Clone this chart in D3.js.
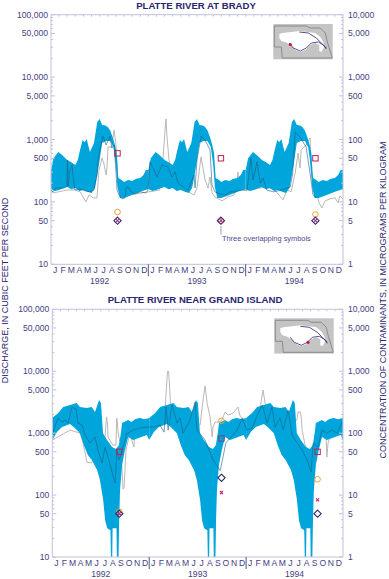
<!DOCTYPE html>
<html>
<head>
<meta charset="utf-8">
<script src="https://cdn.jsdelivr.net/npm/d3@7"></script>
<style>
  html, body { margin: 0; padding: 0; background: #fff; }
  text { font-family: "Liberation Sans", Arial, sans-serif; }
</style>
</head>
<body>
<div id="chart"></div>
<script>
const monthLetters = ['J', 'F', 'M', 'A', 'M', 'J', 'J', 'A', 'S', 'O', 'N', 'D'];
const years = [1992, 1993, 1994];
const leftTicks = [100000, 50000, 10000, 5000, 1000, 500, 100, 50, 10];
const rightTicks = [10000, 5000, 1000, 500, 100, 50, 10, 5, 1];

// [month of year, cubic feet per second], the envelope repeats every year
const bradyUpper = [[0, 325], [0.3, 500], [0.9, 630], [1.4, 560], [2, 470], [2.5, 430], [3, 389], [3.3, 470], [3.6, 700], [3.9, 982], [4.15, 900], [4.4, 1019], [4.8, 631], [5.3, 879], [5.7, 1910], [6, 2130], [6.3, 1706], [6.7, 1680], [7, 1585], [7.3, 1400], [7.6, 1096], [7.9, 800], [8.1, 608], [8.3, 242], [8.7, 225], [9, 209], [9.5, 225], [10, 216], [10.5, 235], [11, 242], [11.4, 270], [11.7, 325], [12, 325]];
const bradyLower = [[0, 161], [0.5, 150], [1, 155], [1.5, 165], [2, 174], [2.5, 160], [3, 167], [3.5, 150], [4, 155], [4.5, 145], [5, 139], [5.4, 167], [5.7, 270], [6, 470], [6.3, 879], [6.8, 946], [7.3, 946], [7.7, 759], [8, 389], [8.2, 174], [8.5, 116], [9, 116], [10, 129], [11, 145], [12, 161]];
const islandUpper = [[0, 1750], [0.74, 2110], [1.36, 2640], [2.2, 2840], [3, 3060], [3.43, 2640], [4.26, 2540], [4.88, 2640], [5.29, 2190], [5.79, 3430], [6.03, 3060], [6.28, 1000], [6.78, 773], [7.4, 596], [7.89, 554], [8.26, 642], [8.51, 1040], [8.64, 1456], [9.38, 1630], [9.8, 1520], [10.3, 1700], [10.87, 1750], [11.4, 1680], [12, 1750]];
const islandLower = [[0, 773], [0.58, 1040], [1.2, 1255], [2.2, 1400], [2.8, 1210], [3.43, 1000], [3.9, 642], [4.4, 443], [4.9, 368], [5.55, 253], [5.9, 175], [6.3, 83], [6.55, 39], [6.8, 29], [7.2, 27], [7.27, 9], [7.42, 9], [7.47, 29], [7.95, 29], [8, 9], [8.2, 9], [8.28, 39], [8.39, 120], [8.64, 305], [9, 534], [9.4, 865], [10, 773], [11.7, 930], [12, 773]];

// [month since Jan 1992, cubic feet per second]
const bradyDark = [[0, 155], [0.25, 145], [0.6, 167], [1.1, 167], [1.6, 167], [1.97, 180], [2.03, 470], [2.1, 180], [2.34, 325], [2.6, 391], [2.7, 270], [2.96, 155], [3.6, 161], [4.2, 150], [4.8, 145], [5.3, 155], [5.67, 270], [5.8, 470], [6.04, 679], [6.4, 1130], [6.8, 816], [7.27, 1130], [7.5, 731], [7.77, 816], [8, 325], [8.14, 155], [8.5, 120], [8.75, 112], [9.12, 116], [9.25, 167], [9.5, 174], [9.86, 145], [10.36, 134], [10.97, 145], [11.7, 139], [11.96, 155], [12.2, 437], [12.7, 325], [13.07, 251], [13.69, 391], [14.43, 363], [14.92, 251], [15.29, 302], [15.66, 201], [16.28, 174], [16.9, 155], [17.63, 270], [17.76, 167], [18, 470], [18.5, 1130], [19, 982], [19.6, 679], [19.85, 187], [20.2, 145], [20.84, 134], [21.45, 129], [22.07, 145], [22.7, 145], [23.3, 155], [23.9, 155], [24.17, 155], [24.66, 506], [24.9, 225], [25.4, 437], [25.8, 201], [26.14, 242], [26.6, 155], [27.4, 145], [28.5, 155], [29.5, 174], [29.8, 291], [30.1, 1319], [30.7, 1096], [31.45, 759], [32.06, 225], [32.3, 129], [32.7, 116]];
const bradyGrey = [[0, 155], [0.25, 139], [1.97, 155], [2.96, 155], [3.6, 145], [4.3, 100], [4.7, 129], [5.2, 116], [5.67, 116], [5.8, 201], [5.92, 325], [6.3, 506], [6.5, 421], [6.8, 270], [6.9, 350], [7.03, 759], [7.5, 759], [7.77, 1420], [8, 879], [8.26, 209], [8.5, 129], [9.1, 129], [10.4, 134], [12, 145], [12.8, 150], [13.4, 155], [13.8, 470], [14.06, 1420], [14.18, 2130], [14.3, 1096], [14.55, 470], [15.3, 187], [16.5, 155], [17.63, 129], [18, 167], [18.5, 525], [19, 225], [19.36, 167], [19.6, 251], [19.85, 139], [20.2, 120], [21.1, 104], [21.8, 120], [22.56, 129], [22.9, 167], [23.06, 302], [23.1, 201], [23.55, 155], [24.5, 155], [26.6, 174], [27.6, 155], [28.6, 108], [29.1, 155], [29.6, 145], [30.1, 291], [30.46, 608], [30.7, 350], [30.83, 679], [31.45, 816], [31.94, 1057], [32.06, 325], [32.43, 174], [32.7, 139], [33.05, 97], [33.4, 80], [33.8, 104], [34.4, 112], [35, 116], [35.4, 97], [35.6, 125], [36, 112]];
const islandDark = [[0.09, 1040], [0.7, 1750], [1.2, 1510], [1.57, 1630], [1.95, 1456], [2.44, 2640], [2.94, 2450], [3.18, 1456], [3.68, 1350], [4.05, 932], [4.67, 692], [5.29, 865], [5.66, 534], [6.16, 329], [6.53, 596], [6.9, 411], [7.77, 156], [8.02, 534], [8.27, 368], [8.76, 596], [9.25, 1000], [9.38, 1000], [10, 1122], [10.87, 1210], [11.73, 1255], [12.48, 1255], [13.35, 1350], [13.84, 1040], [14.09, 2640], [14.34, 1122], [14.83, 2840], [15.45, 1456], [15.82, 1750], [16.2, 1000], [17.06, 1630], [17.68, 3180], [17.93, 1122], [18.92, 773], [19.9, 368], [20.8, 250], [21.5, 700], [22.9, 1122], [23.5, 1750], [24.1, 1122], [24.75, 1210], [25.5, 2110], [26, 2840], [26.6, 1456], [27.2, 2640], [27.6, 1255], [28.2, 1750], [28.6, 1122], [29.2, 2360], [29.7, 932], [30.07, 773], [30.94, 534], [31.56, 368], [32.06, 235], [32.3, 692], [32.9, 596], [33.4, 1122], [34, 1000], [34.6, 1122], [35.3, 1000], [35.9, 1510]];
const islandGrey = [[0, 773], [2.2, 1122], [3.43, 1000], [3.8, 692], [4.3, 340], [4.9, 329], [5.17, 534], [5.66, 773], [6.28, 773], [6.53, 865], [6.72, 1820], [6.85, 1350], [6.9, 865], [7.5, 642], [7.89, 642], [7.96, 1630], [8, 1750], [8.15, 1040], [8.5, 575], [8.76, 125], [8.88, 130], [9.13, 534], [9.6, 1000], [10.1, 596], [10.25, 1000], [12.1, 1122], [13.35, 1350], [13.96, 2360], [14.15, 5767], [14.27, 10000], [14.4, 10000], [14.52, 5767], [14.7, 1960], [15.8, 1350], [17.68, 1350], [18.3, 1350], [18.67, 3430], [18.92, 5767], [19.17, 3060], [19.54, 1820], [19.8, 865], [19.9, 1255], [20.16, 1510], [20.66, 1510], [21, 1630], [21.4, 2190], [21.77, 1960], [22.4, 2110], [23, 2640], [23.25, 1890], [24.5, 1350], [25.7, 2360], [26.1, 4970], [26.35, 3060], [26.97, 1630], [29.45, 1350], [30.3, 1630], [30.44, 2190], [30.7, 2190], [30.8, 1960], [30.94, 1122], [31.3, 642], [32.2, 368], [32.7, 642], [33.4, 1122], [33.9, 1040], [34, 411], [34.15, 692], [34.6, 1040], [36, 1350]];

// sample month and micrograms per kilogram per year, same order in each array
const bradySampleMonths = [8.2, 20.95, 32.6];
const bradySquares = [60, 50, 50];
const bradyCircles = [6.9, 5, 6.3];
const bradyDiamonds = [5, 5, 5];
const bradyCrosses = [5, 5, 5];
const islandSampleMonths = [8.3, 20.95, 32.85];
const islandSquares = [50, 82, 50];
const islandCircles = [5.4, 158, 18];
const islandDiamonds = [5, 19, 5];
const islandCrosses = [5, 11, 8.4];

// locator map, pixels inside the inset
const mapBasin = [[6, 10], [9, 9], [18, 8], [26, 7], [35, 8], [42, 9], [47, 13], [50, 18], [51, 23], [48, 28], [46, 27], [46, 21], [42, 19], [37, 21], [32, 26], [27, 28], [22, 26], [17, 21], [12, 18], [8, 17], [6, 14]];
const mapState = [[1, 2], [33, 2], [37, 4], [47, 4], [52, 9], [54, 18], [59, 34], [9, 34], [8, 23], [1, 23]];
const mapSouthFork = [[16, 19], [20, 24], [27, 27], [33, 24], [38, 19], [45, 18], [50, 21], [53, 25]];
const mapNorthFork = [[26, 8], [35, 9], [43, 14], [48, 19], [53, 24]];

const navy = '#2a2570';
const tickColor = '#45417f';
const axisColor = '#c2c0db';
const bandColor = '#00a5db';
const red = '#c41f50';

function drawPanel(svg, cfg) {
    const x = d3.scaleLinear().domain([0, 36]).range([cfg.left, cfg.right]);
    const y = d3.scaleLog().domain([10, 100000]).range([cfg.bottom, cfg.top]);
    const yRight = d3.scaleLog().domain([1, 10000]).range([cfg.bottom, cfg.top]);

    const panel = svg.append('g');
    const clipId = `clip-${cfg.id}`;
    panel.append('clipPath').attr('id', clipId).append('rect')
        .attr('x', cfg.left).attr('y', cfg.top)
        .attr('width', cfg.right - cfg.left).attr('height', cfg.bottom - cfg.top);
    const plot = panel.append('g').attr('clip-path', `url(#${clipId})`);

    const line = d3.line().x(d => x(d[0])).y(d => y(d[1]));
    const yearOf = (pts, k) => pts.map(d => [d[0] + k * 12, d[1]]);

    // grey record sits behind the envelope, dark one on top of it
    plot.append('path').attr('d', line(cfg.grey))
        .attr('fill', 'none').attr('stroke', '#b0b0b0').attr('stroke-width', 0.9);

    years.forEach((yr, k) => {
        const upper = yearOf(cfg.upper, k);
        const lower = yearOf(cfg.lower, k).reverse();
        plot.append('path')
            .attr('d', line(upper.concat(lower)) + 'Z')
            .attr('fill', bandColor);
    });

    plot.append('path').attr('d', line(cfg.dark))
        .attr('fill', 'none').attr('stroke', '#1d6288').attr('stroke-width', 0.6);

    // axes box
    const minorTicks = d3.range(1, 5).flatMap(e => d3.range(1, 10).map(m => m * 10 ** e));
    const frame = panel.append('g').attr('stroke', axisColor).attr('fill', 'none');
    frame.append('path').attr('d', `M${cfg.left},${cfg.bottom}V${cfg.top}H${cfg.right}V${cfg.bottom}H${cfg.left}`);
    minorTicks.concat([100000]).forEach(v => {
        const len = leftTicks.includes(v) ? 4 : 2;
        frame.append('line').attr('x1', cfg.left).attr('x2', cfg.left + len).attr('y1', y(v)).attr('y2', y(v));
        frame.append('line').attr('x1', cfg.right).attr('x2', cfg.right - len).attr('y1', y(v)).attr('y2', y(v));
    });
    d3.range(1, 36).forEach(m => {
        frame.append('line').attr('x1', x(m)).attr('x2', x(m)).attr('y1', cfg.top).attr('y2', cfg.top + 2);
    });

    panel.selectAll('.left-label').data(leftTicks).join('text')
        .attr('class', 'left-label')
        .attr('x', cfg.left - 3).attr('y', d => y(d) + 3)
        .attr('text-anchor', 'end').attr('font-size', 8.6).attr('fill', tickColor)
        .text(d => d3.format(',')(d));
    panel.selectAll('.right-label').data(rightTicks).join('text')
        .attr('class', 'right-label')
        .attr('x', cfg.right + 5).attr('y', d => yRight(d) + 3)
        .attr('font-size', 8.6).attr('fill', tickColor)
        .text(d => d3.format(',')(d));

    // months and years
    d3.range(36).forEach(m => {
        panel.append('text').attr('x', x(m + 0.5)).attr('y', cfg.bottom + 9)
            .attr('text-anchor', 'middle').attr('font-size', 8.6).attr('fill', tickColor)
            .text(monthLetters[m % 12]);
    });
    years.forEach((yr, k) => {
        panel.append('text').attr('x', x(k * 12 + 6)).attr('y', cfg.bottom + 20)
            .attr('text-anchor', 'middle').attr('font-size', 8.6).attr('fill', tickColor)
            .text(yr);
        if (k > 0) {
            panel.append('line').attr('x1', x(k * 12)).attr('x2', x(k * 12))
                .attr('y1', cfg.bottom).attr('y2', cfg.bottom + 12)
                .attr('stroke', navy).attr('stroke-width', 0.8);
        }
    });

    panel.append('text').attr('x', cfg.titleX).attr('y', cfg.top - 6)
        .attr('text-anchor', 'middle').attr('font-size', 9.6).attr('font-weight', 'bold')
        .attr('fill', navy).text(cfg.title);

    // contaminant samples, read on the right axis
    const sx = i => x(cfg.sampleMonths[i]);
    const marks = panel.append('g').attr('fill', 'none');
    cfg.squares.forEach((v, i) => {
        marks.append('rect').attr('x', sx(i) - 2.7).attr('y', yRight(v) - 2.7)
            .attr('width', 5.4).attr('height', 5.4)
            .attr('stroke', cfg.id == 'island' && i == 1 ? '#84407c' : red).attr('stroke-width', 1);
    });
    cfg.circles.forEach((v, i) => {
        marks.append('circle').attr('cx', sx(i)).attr('cy', yRight(v)).attr('r', 2.8)
            .attr('stroke', '#f0a030').attr('stroke-width', 1);
    });
    cfg.diamonds.forEach((v, i) => {
        marks.append('path').attr('transform', `translate(${sx(i)},${yRight(v)})`)
            .attr('d', 'M0,-3.6L3.6,0L0,3.6L-3.6,0Z')
            .attr('stroke', navy).attr('stroke-width', 1.1);
    });
    cfg.crosses.forEach((v, i) => {
        marks.append('path').attr('transform', `translate(${sx(i)},${yRight(v)})`)
            .attr('d', 'M-1.5,-1.5L1.5,1.5M-1.5,1.5L1.5,-1.5')
            .attr('stroke', '#d01e78').attr('stroke-width', 1.1);
    });

    // locator map
    const map = panel.append('g').attr('transform', `translate(${cfg.mapX},${cfg.mapY})`);
    const mapLine = d3.line();
    map.append('rect').attr('width', 59.4).attr('height', 35.3).attr('fill', '#c4c4c4');
    map.append('path').attr('d', mapLine(mapBasin) + 'Z').attr('fill', '#fff');
    map.append('path').attr('d', mapLine(mapState) + 'Z').attr('fill', 'none').attr('stroke', '#7c7c7c').attr('stroke-width', 0.8);
    map.append('path').attr('d', mapLine(mapSouthFork)).attr('fill', 'none').attr('stroke', navy).attr('stroke-width', 0.8);
    map.append('path').attr('d', mapLine(mapNorthFork)).attr('fill', 'none').attr('stroke', navy).attr('stroke-width', 0.8);
    map.append('circle').attr('cx', cfg.siteX).attr('cy', cfg.siteY).attr('r', 1.6).attr('fill', '#d3103f');

    return {x, y, yRight};
}

const svg = d3.select('#chart').append('svg')
    .attr('width', 389).attr('height', 579)
    .style('display', 'block');

const brady = drawPanel(svg, {
    id: 'brady', title: 'PLATTE RIVER AT BRADY', titleX: 196,
    left: 51, right: 343, top: 14.7, bottom: 264.3,
    upper: bradyUpper, lower: bradyLower, dark: bradyDark, grey: bradyGrey,
    sampleMonths: bradySampleMonths, squares: bradySquares, circles: bradyCircles,
    diamonds: bradyDiamonds, crosses: bradyCrosses,
    mapX: 273.3, mapY: 24, siteX: 17, siteY: 20.5
});

drawPanel(svg, {
    id: 'island', title: 'PLATTE RIVER NEAR GRAND ISLAND', titleX: 195,
    left: 52.3, right: 343, top: 309.3, bottom: 557,
    upper: islandUpper, lower: islandLower, dark: islandDark, grey: islandGrey,
    sampleMonths: islandSampleMonths, squares: islandSquares, circles: islandCircles,
    diamonds: islandDiamonds, crosses: islandCrosses,
    mapX: 274.3, mapY: 318.3, siteX: 33.7, siteY: 24
});

// leader for the overlapping symbols
const leaderX = brady.x(bradySampleMonths[1]);
svg.append('line').attr('x1', leaderX).attr('x2', leaderX)
    .attr('y1', brady.yRight(5) + 5).attr('y2', brady.yRight(5) + 14)
    .attr('stroke', axisColor).attr('stroke-width', 1.6);
svg.append('text').attr('x', 222).attr('y', 241)
    .attr('font-size', 7.4).attr('fill', '#4c4890').text('Three overlapping symbols');

svg.append('text').attr('transform', 'translate(8,290.5) rotate(-90)')
    .attr('text-anchor', 'middle').attr('font-size', 9).attr('fill', navy)
    .text('DISCHARGE, IN CUBIC FEET PER SECOND');
svg.append('text').attr('transform', 'translate(386,300) rotate(-90)')
    .attr('text-anchor', 'middle').attr('font-size', 9).attr('fill', navy)
    .text('CONCENTRATION OF CONTAMINANTS, IN MICROGRAMS PER KILOGRAM');
</script>
</body>
</html>
